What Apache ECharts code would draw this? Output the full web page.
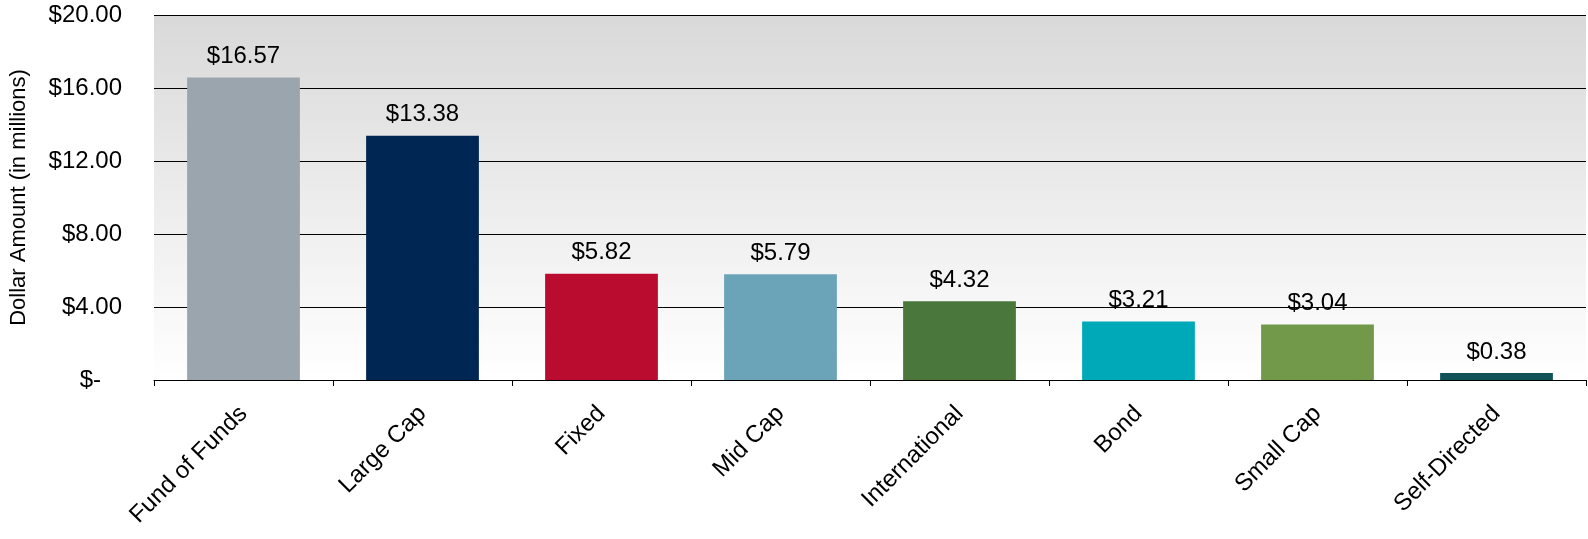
<!DOCTYPE html>
<html><head><meta charset="utf-8">
<script src="https://cdn.jsdelivr.net/npm/echarts@6/dist/echarts.min.js"></script>
<style>html,body{margin:0;padding:0;background:#fff}#c{width:1588px;height:539px}</style>
</head><body><div id="c"></div>
<script>
const categories = ['Fund of Funds','Large Cap','Fixed','Mid Cap','International','Bond','Small Cap','Self-Directed'];
const values = [16.57, 13.38, 5.82, 5.79, 4.32, 3.21, 3.04, 0.38];
const colors = ['#9ba5ae','#002654','#ba0c2f','#6ba4b8','#4a773c','#00a9b7','#719949','#115158'];
const yTicks = [0, 4, 8, 12, 16, 20];

const chart = echarts.init(document.getElementById('c'));
const font = 'Liberation Sans, Arial, sans-serif';
chart.setOption({
  animation: false,
  grid: {left: 150, right: 2, top: 15, bottom: 159, show: true, borderWidth: 0,
    backgroundColor: new echarts.graphic.LinearGradient(0,0,0,1,[{offset:0,color:'#d9d9d9'},{offset:1,color:'#ffffff'}])},
  xAxis: {
    type: 'category', data: categories,
    axisLine: {lineStyle: {color: '#000', width: 1}},
    axisTick: {show: true, length: 6, lineStyle: {color: '#000'}},
    axisLabel: {rotate: 45, color: '#000', fontFamily: font, fontSize: 24, margin: 30}
  },
  yAxis: {
    type: 'value', min: yTicks[0], max: yTicks[yTicks.length-1], interval: 4,
    name: 'Dollar Amount (in millions)', nameLocation: 'middle', nameGap: 124,
    nameTextStyle: {color: '#000', fontFamily: font, fontSize: 22},
    axisLine: {show: false}, axisTick: {show: false},
    splitLine: {lineStyle: {color: '#000', width: 1}},
    axisLabel: {color: '#000', fontFamily: font, fontSize: 24, margin: 32,
      formatter: v => v === 0 ? '{z|$-}' : '$' + v.toFixed(2),
      rich: {z: {color: '#000', fontFamily: font, fontSize: 24, padding: [0, 21, 0, 0]}}}
  },
  series: [{
    type: 'bar', barWidth: '63%',
    data: values.map((v,i) => ({value: v, itemStyle: {color: colors[i]}})),
    label: {show: true, position: 'top', distance: 9, color: '#000', fontFamily: font, fontSize: 24,
      formatter: p => '$' + p.value.toFixed(2)}
  }]
});
</script></body></html>
